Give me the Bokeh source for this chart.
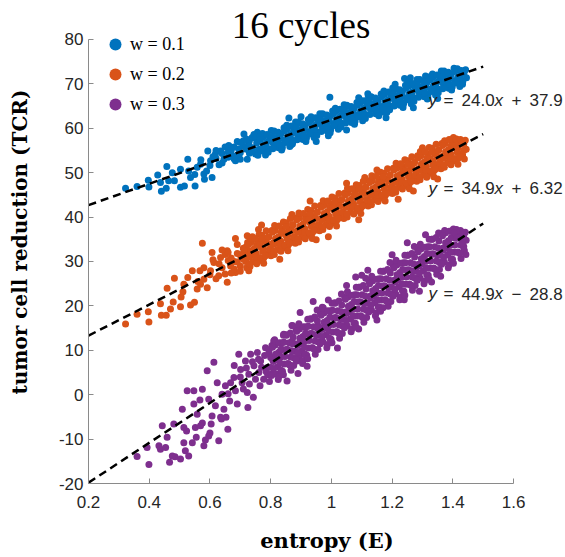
from bokeh.plotting import figure
from bokeh.models import Range1d, FixedTicker, Legend, LegendItem, Label
from bokeh.embed import file_html
from bokeh.resources import INLINE

# ---------------- data ----------------
series_labels = ["w = 0.1", "w = 0.2", "w = 0.3"]
series_colors = ["#0072BD", "#D95319", "#7E2F8E"]

fit_slope = [24.0, 34.9, 44.9]
fit_intercept = [37.9, 6.32, -28.8]
fit_x_span = [0.2, 1.5]
fit_coef_text = ["24.0", "34.9", "44.9"]
fit_sign_text = ["+", "+", "\u2212"]
fit_const_text = ["37.9", "6.32", "28.8"]

x_ticks = [0.2, 0.4, 0.6, 0.8, 1.0, 1.2, 1.4, 1.6]
x_tick_labels = ["0.2", "0.4", "0.6", "0.8", "1", "1.2", "1.4", "1.6"]
y_ticks = [-20, -10, 0, 10, 20, 30, 40, 50, 60, 70, 80]
y_tick_labels = ["-20", "-10", "0", "10", "20", "30", "40", "50", "60", "70", "80"]

blue_x = [0.322, 0.360, 0.397, 0.399, 0.428, 0.437, 0.440, 0.456, 0.458, 0.464, 0.476, 0.483, 0.503, 0.503, 0.516, 0.527, 0.530, 0.536, 0.551, 0.558,
          0.569, 0.582, 0.589, 0.593, 0.607, 0.602, 0.618, 0.635, 0.646, 0.662, 0.673, 0.684, 0.695, 0.712, 0.723, 0.728, 0.739, 0.750, 0.756,
          0.60, 0.62, 0.64, 0.66, 0.68, 0.70, 0.71, 0.72, 0.73, 0.74, 0.70, 0.65, 0.69, 0.745, 0.72,
          0.61, 0.63, 0.66, 0.67, 0.69, 0.71, 0.73, 0.75, 0.62, 0.64, 0.68, 0.70, 0.74, 0.76, 0.57, 0.55, 0.58,
          0.764, 0.754, 0.767, 0.758, 0.775, 0.786, 0.779, 0.783, 0.802, 0.797, 0.808, 0.793, 0.812, 0.821, 0.816, 0.826,
          0.844, 0.834, 0.847, 0.838, 0.855, 0.866, 0.859, 0.863, 0.882, 0.877, 0.888, 0.873, 0.892, 0.901, 0.896, 0.906,
          0.924, 0.914, 0.927, 0.918, 0.935, 0.946, 0.939, 0.943, 0.962, 0.957, 0.968, 0.953, 0.972, 0.981, 0.976, 0.986,
          1.004, 0.994, 1.007, 0.998, 1.015, 1.026, 1.019, 1.023, 1.042, 1.037, 1.048, 1.033, 1.052, 1.061, 1.056, 1.066,
          1.084, 1.074, 1.087, 1.078, 1.095, 1.106, 1.099, 1.103, 1.122, 1.117, 1.128, 1.113, 1.132, 1.141, 1.136, 1.146,
          1.164, 1.154, 1.167, 1.158, 1.175, 1.186, 1.179, 1.183, 1.202, 1.197, 1.208, 1.193, 1.212, 1.221, 1.216, 1.226,
          1.244, 1.234, 1.247, 1.238, 1.255, 1.266, 1.259, 1.263, 1.282, 1.277, 1.288, 1.273, 1.292, 1.301, 1.296, 1.306,
          1.324, 1.314, 1.327, 1.318, 1.335, 1.346, 1.339, 1.343, 1.362, 1.357, 1.368, 1.353, 1.372, 1.381, 1.376, 1.386,
          1.404, 1.394, 1.407, 1.398, 1.415, 1.426, 1.419, 1.423, 1.442, 1.437, 1.445, 1.433,
          0.995, 0.860, 0.838, 0.868, 1.241, 1.173, 0.900, 0.950, 1.050, 1.120, 1.180, 1.270, 1.310, 1.260, 1.350, 1.090, 0.990, 1.210]
blue_y = [46.5, 46.9, 48.3, 46.8, 49.5, 47.8, 45.8, 46.5, 51.4, 48.2, 50.0, 48.2, 46.7, 50.8, 47.0, 53.0, 50.4, 48.9, 47.0, 51.2,
          51.9, 48.5, 50.4, 54.9, 48.9, 52.7, 54.2, 54.9, 53.0, 56.1, 53.8, 52.7, 55.3, 58.7, 53.0, 56.4, 57.9, 54.2, 59.1,
          51.6, 53.2, 52.2, 54.6, 55.8, 54.5, 56.0, 55.3, 57.2, 55.6, 53.0, 55.8, 57.0, 58.6, 57.6,
          53.6, 51.8, 53.5, 55.0, 54.0, 57.2, 54.4, 57.8, 55.0, 54.3, 53.1, 56.8, 54.9, 55.2, 52.9, 49.6, 49.7,
          58.1, 56.7, 55.3, 53.9, 58.0, 56.7, 55.3, 54.0, 59.5, 58.1, 56.7, 55.4, 59.3, 57.9, 56.6, 55.6,
          60.1, 58.7, 57.3, 55.9, 59.9, 58.6, 57.2, 55.9, 61.4, 60.0, 58.6, 57.3, 61.2, 59.8, 58.5, 57.5,
          62.0, 60.6, 59.2, 57.8, 61.9, 60.6, 59.2, 57.9, 63.3, 61.9, 60.5, 59.2, 63.1, 61.7, 60.4, 59.4,
          63.9, 62.5, 61.1, 59.7, 63.8, 62.5, 61.1, 59.8, 65.3, 63.9, 62.5, 61.2, 65.0, 63.6, 62.3, 61.3,
          65.8, 64.4, 63.0, 61.6, 65.7, 64.4, 63.0, 61.7, 67.2, 65.8, 64.4, 63.1, 67.0, 65.6, 64.3, 63.3,
          67.7, 66.3, 64.9, 63.5, 67.6, 66.3, 64.9, 63.6, 69.1, 67.7, 66.3, 65.0, 68.9, 67.5, 66.2, 65.2,
          69.7, 68.3, 66.9, 65.5, 69.5, 68.2, 66.8, 65.5, 71.0, 69.6, 68.2, 66.9, 70.8, 69.4, 68.1, 67.1,
          71.6, 70.2, 68.8, 67.4, 71.5, 70.2, 68.8, 67.5, 72.9, 71.5, 70.1, 68.8, 72.7, 71.3, 70.0, 69.0,
          73.5, 72.1, 70.7, 69.3, 73.4, 72.1, 70.7, 69.4, 73.2, 72.5, 71.4, 70.6,
          67.0, 62.3, 55.5, 56.3, 71.2, 63.6, 62.6, 57.0, 59.6, 67.8, 62.4, 64.6, 71.8, 71.4, 66.7, 66.9, 58.3, 69.9]
blue_x2 = [0.773, 0.766, 0.776, 0.769, 0.788, 0.795, 0.784, 0.792, 0.811, 0.804, 0.814, 0.807, 0.825, 0.832, 0.829, 0.836,
           0.853, 0.846, 0.856, 0.849, 0.868, 0.875, 0.864, 0.872, 0.891, 0.884, 0.894, 0.887, 0.905, 0.912, 0.909, 0.916,
           0.933, 0.926, 0.936, 0.929, 0.948, 0.955, 0.944, 0.952, 0.971, 0.964, 0.974, 0.967, 0.985, 0.992, 0.989, 0.996,
           1.013, 1.006, 1.016, 1.009, 1.028, 1.035, 1.024, 1.032, 1.051, 1.044, 1.054, 1.047, 1.065, 1.072, 1.069, 1.076,
           1.093, 1.086, 1.096, 1.089, 1.108, 1.115, 1.104, 1.112, 1.131, 1.124, 1.134, 1.127, 1.145, 1.152, 1.149, 1.156,
           1.173, 1.166, 1.176, 1.169, 1.188, 1.195, 1.184, 1.192, 1.211, 1.204, 1.214, 1.207, 1.225, 1.232, 1.229, 1.236,
           1.253, 1.246, 1.256, 1.249, 1.268, 1.275, 1.264, 1.272, 1.291, 1.284, 1.294, 1.287, 1.305, 1.312, 1.309, 1.316,
           1.333, 1.326, 1.336, 1.329, 1.348, 1.355, 1.344, 1.352, 1.371, 1.364, 1.374, 1.367, 1.385, 1.392, 1.389, 1.396,
           1.413, 1.406, 1.416, 1.409, 1.428, 1.435, 1.424, 1.432]
blue_y2 = [58.8, 57.5, 56.2, 54.9, 58.6, 57.3, 55.9, 54.6, 59.4, 58.1, 56.8, 55.4, 59.1, 57.7, 56.4, 55.1,
           60.7, 59.4, 58.1, 56.8, 60.5, 59.2, 57.8, 56.5, 61.4, 60.1, 58.8, 57.4, 61.0, 59.6, 58.3, 57.0,
           62.6, 61.3, 60.0, 58.7, 62.4, 61.1, 59.7, 58.4, 63.3, 62.0, 60.7, 59.3, 63.0, 61.6, 60.3, 59.0,
           64.5, 63.2, 61.9, 60.6, 64.3, 63.0, 61.6, 60.3, 65.2, 63.9, 62.6, 61.2, 64.9, 63.5, 62.2, 60.9,
           66.5, 65.2, 63.9, 62.6, 66.2, 64.9, 63.5, 62.2, 67.1, 65.8, 64.5, 63.1, 66.8, 65.4, 64.1, 62.8,
           68.4, 67.1, 65.8, 64.5, 68.2, 66.9, 65.5, 64.2, 69.0, 67.7, 66.4, 65.0, 68.7, 67.3, 66.0, 64.7,
           70.3, 69.0, 67.7, 66.4, 70.1, 68.8, 67.4, 66.1, 71.0, 69.7, 68.4, 67.0, 70.6, 69.2, 67.9, 66.6,
           72.2, 70.9, 69.6, 68.3, 72.0, 70.7, 69.3, 68.0, 72.9, 71.6, 70.3, 68.9, 72.6, 71.2, 69.9, 68.6,
           73.2, 72.8, 71.5, 70.2, 73.0, 72.6, 71.2, 69.9]

orange_x = [0.322, 0.360, 0.399, 0.397, 0.437, 0.440, 0.456, 0.470, 0.459, 0.483, 0.479, 0.503, 0.505, 0.511, 0.514, 0.527, 0.536, 0.549, 0.558,
            0.542, 0.567, 0.575, 0.569, 0.580, 0.591, 0.602, 0.607, 0.613, 0.629, 0.635, 0.657, 0.657, 0.668, 0.684, 0.684, 0.701, 0.723, 0.728,
            0.64, 0.66, 0.67, 0.69, 0.70, 0.71, 0.65, 0.68, 0.72, 0.74, 0.75, 0.73, 0.69, 0.71, 0.76,
            0.60, 0.62, 0.63, 0.65, 0.66, 0.67, 0.68, 0.70, 0.71, 0.61, 0.64, 0.69, 0.72, 0.58, 0.56,
            0.724, 0.714, 0.727, 0.718, 0.721, 0.735, 0.746, 0.739, 0.743, 0.732, 0.762, 0.757, 0.768, 0.753, 0.765,
            0.772, 0.781, 0.776, 0.786, 0.777, 0.804, 0.794, 0.807, 0.798, 0.801, 0.815, 0.826, 0.819, 0.823, 0.812,
            0.842, 0.837, 0.848, 0.833, 0.845, 0.852, 0.861, 0.856, 0.866, 0.857, 0.884, 0.874, 0.887, 0.878, 0.881,
            0.895, 0.906, 0.899, 0.903, 0.892, 0.922, 0.917, 0.928, 0.913, 0.925, 0.932, 0.941, 0.936, 0.946, 0.937,
            0.964, 0.954, 0.967, 0.958, 0.961, 0.975, 0.986, 0.979, 0.983, 0.972, 1.002, 0.997, 1.008, 0.993, 1.005,
            1.012, 1.021, 1.016, 1.026, 1.017, 1.044, 1.034, 1.047, 1.038, 1.041, 1.055, 1.066, 1.059, 1.063, 1.052,
            1.082, 1.077, 1.088, 1.073, 1.085, 1.092, 1.101, 1.096, 1.106, 1.097, 1.124, 1.114, 1.127, 1.118, 1.121,
            1.135, 1.146, 1.139, 1.143, 1.132, 1.162, 1.157, 1.168, 1.153, 1.165, 1.172, 1.181, 1.176, 1.186, 1.177,
            1.204, 1.194, 1.207, 1.198, 1.201, 1.215, 1.226, 1.219, 1.223, 1.212, 1.242, 1.237, 1.248, 1.233, 1.245,
            1.252, 1.261, 1.256, 1.266, 1.257, 1.284, 1.274, 1.287, 1.278, 1.281, 1.295, 1.306, 1.299, 1.303, 1.292,
            1.322, 1.317, 1.328, 1.313, 1.325, 1.332, 1.341, 1.336, 1.346, 1.337, 1.364, 1.354, 1.367, 1.358, 1.361,
            1.375, 1.386, 1.379, 1.383, 1.372, 1.402, 1.397, 1.408, 1.393, 1.405, 1.412, 1.421, 1.416, 1.426, 1.417,
            1.441, 1.436, 1.444, 1.432, 1.438,
            0.77, 0.83, 0.93, 0.99, 1.05, 1.09, 1.15, 1.22, 1.30, 1.35, 1.27, 1.11, 0.87, 0.95]
orange_y = [15.9, 18.1, 16.4, 18.7, 20.5, 17.9, 17.9, 19.3, 24.0, 26.2, 20.9, 19.8, 22.0, 23.2, 24.9, 26.4, 20.2, 20.8, 23.8,
            27.9, 27.9, 34.1, 24.9, 26.0, 24.1, 27.9, 32.0, 29.8, 26.8, 30.9, 25.3, 32.4, 29.0, 35.2, 27.5, 31.3, 35.8, 27.9,
            28.6, 30.2, 27.4, 31.8, 29.0, 33.0, 31.6, 28.3, 33.4, 35.6, 30.0, 29.4, 33.8, 30.5, 37.2,
            27.0, 26.1, 29.5, 27.2, 32.0, 30.8, 30.0, 27.8, 31.9, 30.4, 32.6, 29.9, 32.5, 28.6, 25.5,
            34.3, 32.8, 31.4, 30.0, 28.6, 34.3, 32.9, 31.4, 30.0, 28.9, 36.1, 34.6, 33.2, 31.8, 30.3,
            35.9, 34.5, 33.0, 31.7, 30.8, 37.0, 35.5, 34.1, 32.7, 31.3, 37.0, 35.6, 34.1, 32.7, 31.6,
            38.9, 37.4, 36.0, 34.6, 33.1, 38.7, 37.3, 35.8, 34.5, 33.6, 39.8, 38.3, 36.9, 35.5, 34.1,
            39.8, 38.4, 36.9, 35.5, 34.4, 41.7, 40.2, 38.8, 37.4, 35.9, 41.5, 40.1, 38.6, 37.3, 36.4,
            42.6, 41.1, 39.7, 38.3, 36.9, 42.6, 41.2, 39.7, 38.3, 37.2, 44.5, 43.0, 41.6, 40.2, 38.7,
            44.3, 42.9, 41.4, 40.1, 39.2, 45.4, 43.9, 42.5, 41.1, 39.7, 45.4, 44.0, 42.5, 41.1, 40.0,
            47.3, 45.8, 44.4, 43.0, 41.5, 47.1, 45.7, 44.2, 42.9, 42.0, 48.2, 46.7, 45.3, 43.9, 42.5,
            48.2, 46.8, 45.3, 43.9, 42.8, 50.1, 48.6, 47.2, 45.8, 44.3, 49.9, 48.5, 47.0, 45.7, 44.8,
            51.0, 49.5, 48.1, 46.7, 45.3, 51.0, 49.6, 48.1, 46.7, 45.6, 52.9, 51.4, 50.0, 48.6, 47.1,
            52.7, 51.3, 49.8, 48.5, 47.6, 53.8, 52.3, 50.9, 49.5, 48.1, 53.8, 52.4, 50.9, 49.5, 48.4,
            55.7, 54.2, 52.8, 51.4, 49.9, 55.5, 54.1, 52.6, 51.3, 50.4, 56.6, 55.1, 53.7, 52.3, 50.9,
            56.6, 55.2, 53.7, 52.3, 51.2, 57.9, 57.0, 55.6, 54.2, 52.7, 57.6, 56.9, 55.4, 54.1, 53.2,
            57.3, 56.4, 55.3, 54.0, 53.1,
            38.2, 30.5, 43.6, 35.6, 47.6, 39.4, 50.6, 44.0, 55.6, 48.6, 45.9, 48.9, 40.6, 34.9]
orange_x2 = [0.733, 0.726, 0.736, 0.729, 0.730, 0.748, 0.755, 0.744, 0.752, 0.754, 0.771, 0.764, 0.774, 0.767, 0.777,
             0.785, 0.792, 0.789, 0.796, 0.783, 0.813, 0.806, 0.816, 0.809, 0.810, 0.828, 0.835, 0.824, 0.832, 0.834,
             0.851, 0.844, 0.854, 0.847, 0.857, 0.865, 0.872, 0.869, 0.876, 0.863, 0.893, 0.886, 0.896, 0.889, 0.890,
             0.908, 0.915, 0.904, 0.912, 0.914, 0.931, 0.924, 0.934, 0.927, 0.937, 0.945, 0.952, 0.949, 0.956, 0.943,
             0.973, 0.966, 0.976, 0.969, 0.970, 0.988, 0.995, 0.984, 0.992, 0.994, 1.011, 1.004, 1.014, 1.007, 1.017,
             1.025, 1.032, 1.029, 1.036, 1.023, 1.053, 1.046, 1.056, 1.049, 1.050, 1.068, 1.075, 1.064, 1.072, 1.074,
             1.091, 1.084, 1.094, 1.087, 1.097, 1.105, 1.112, 1.109, 1.116, 1.103, 1.133, 1.126, 1.136, 1.129, 1.130,
             1.148, 1.155, 1.144, 1.152, 1.154, 1.171, 1.164, 1.174, 1.167, 1.177, 1.185, 1.192, 1.189, 1.196, 1.183,
             1.213, 1.206, 1.216, 1.209, 1.210, 1.228, 1.235, 1.224, 1.232, 1.234, 1.251, 1.244, 1.254, 1.247, 1.257,
             1.265, 1.272, 1.269, 1.276, 1.263, 1.293, 1.286, 1.296, 1.289, 1.290, 1.308, 1.315, 1.304, 1.312, 1.314,
             1.331, 1.324, 1.334, 1.327, 1.337, 1.345, 1.352, 1.349, 1.356, 1.343, 1.373, 1.366, 1.376, 1.369, 1.370,
             1.388, 1.395, 1.384, 1.392, 1.394, 1.411, 1.404, 1.414, 1.407, 1.417, 1.425, 1.432, 1.429, 1.436, 1.423]
orange_y2 = [35.3, 33.8, 32.4, 31.0, 29.5, 35.2, 33.8, 32.4, 31.0, 29.5, 35.1, 33.7, 32.3, 30.9, 29.6,
             36.9, 35.5, 34.1, 32.7, 31.3, 38.1, 36.6, 35.2, 33.8, 32.3, 38.0, 36.6, 35.2, 33.8, 32.3,
             37.9, 36.5, 35.1, 33.7, 32.4, 39.7, 38.3, 36.9, 35.5, 34.1, 40.9, 39.4, 38.0, 36.6, 35.1,
             40.8, 39.4, 38.0, 36.6, 35.1, 40.7, 39.3, 37.9, 36.5, 35.2, 42.5, 41.1, 39.7, 38.3, 36.9,
             43.7, 42.2, 40.8, 39.4, 37.9, 43.6, 42.2, 40.8, 39.4, 37.9, 43.5, 42.1, 40.7, 39.3, 38.0,
             45.3, 43.9, 42.5, 41.1, 39.7, 46.5, 45.0, 43.6, 42.2, 40.7, 46.4, 45.0, 43.6, 42.2, 40.7,
             46.3, 44.9, 43.5, 42.1, 40.8, 48.1, 46.7, 45.3, 43.9, 42.5, 49.3, 47.8, 46.4, 45.0, 43.5,
             49.2, 47.8, 46.4, 45.0, 43.5, 49.1, 47.7, 46.3, 44.9, 43.6, 50.9, 49.5, 48.1, 46.7, 45.3,
             52.1, 50.6, 49.2, 47.8, 46.3, 52.0, 50.6, 49.2, 47.8, 46.3, 51.9, 50.5, 49.1, 47.7, 46.4,
             53.6, 52.2, 50.8, 49.4, 48.0, 54.8, 53.3, 51.9, 50.5, 49.0, 54.7, 53.3, 51.9, 50.5, 49.0,
             54.6, 53.2, 51.8, 50.4, 49.1, 56.4, 55.0, 53.6, 52.2, 50.8, 57.2, 56.1, 54.7, 53.3, 51.8,
             57.5, 56.1, 54.7, 53.3, 51.8, 57.4, 56.0, 54.6, 53.2, 51.9, 57.5, 57.0, 56.4, 55.0, 53.6]

purple_x = [0.360, 0.437, 0.467, 0.485, 0.555, 0.585, 0.600, 0.638, 0.653, 0.523, 0.575,
            0.399, 0.393, 0.432, 0.443, 0.459, 0.454, 0.476, 0.481, 0.503, 0.509, 0.514, 0.514, 0.519, 0.530, 0.525, 0.542,
            0.547, 0.552, 0.547, 0.558, 0.569, 0.575, 0.567, 0.580, 0.591, 0.596, 0.604, 0.596, 0.613, 0.607, 0.618, 0.624,
            0.629, 0.635, 0.640, 0.646, 0.651, 0.659, 0.665, 0.668, 0.679, 0.684, 0.690, 0.695, 0.701, 0.706, 0.717, 0.723,
            0.728, 0.725, 0.734, 0.743, 0.745, 0.756, 0.761, 0.767, 0.777, 0.783, 0.789, 0.800, 0.810, 0.822, 0.832, 0.854,
            0.843, 0.871, 0.887, 0.909, 0.920, 0.897, 0.956,
            0.70, 0.72, 0.73, 0.75, 0.76, 0.77, 0.78, 0.79, 0.74, 0.71, 0.765, 0.785, 0.795, 0.68, 0.66,
            0.804, 0.794, 0.807, 0.798, 0.801, 0.796, 0.815, 0.826, 0.819, 0.823, 0.812, 0.825,
            0.842, 0.837, 0.848, 0.833, 0.845, 0.839, 0.852, 0.861, 0.856, 0.866, 0.857, 0.867,
            0.884, 0.874, 0.887, 0.878, 0.881, 0.876, 0.895, 0.906, 0.899, 0.903, 0.892, 0.905,
            0.922, 0.917, 0.928, 0.913, 0.925, 0.919, 0.932, 0.941, 0.936, 0.946, 0.937, 0.947,
            0.964, 0.954, 0.967, 0.958, 0.961, 0.956, 0.975, 0.986, 0.979, 0.983, 0.972, 0.985,
            1.002, 0.997, 1.008, 0.993, 1.005, 0.999, 1.012, 1.021, 1.016, 1.026, 1.017, 1.027,
            1.044, 1.034, 1.047, 1.038, 1.041, 1.036, 1.055, 1.066, 1.059, 1.063, 1.052, 1.065,
            1.082, 1.077, 1.088, 1.073, 1.085, 1.079, 1.092, 1.101, 1.096, 1.106, 1.097, 1.107,
            1.124, 1.114, 1.127, 1.118, 1.121, 1.116, 1.135, 1.146, 1.139, 1.143, 1.132, 1.145,
            1.162, 1.157, 1.168, 1.153, 1.165, 1.159, 1.172, 1.181, 1.176, 1.186, 1.177, 1.187,
            1.204, 1.194, 1.207, 1.198, 1.201, 1.196, 1.215, 1.226, 1.219, 1.223, 1.212, 1.225,
            1.242, 1.237, 1.248, 1.233, 1.245, 1.239, 1.252, 1.261, 1.256, 1.266, 1.257, 1.267,
            1.284, 1.274, 1.287, 1.278, 1.281, 1.276, 1.295, 1.306, 1.299, 1.303, 1.292, 1.305,
            1.322, 1.317, 1.328, 1.313, 1.325, 1.319, 1.332, 1.341, 1.336, 1.346, 1.337, 1.347,
            1.364, 1.354, 1.367, 1.358, 1.361, 1.356, 1.375, 1.386, 1.379, 1.383, 1.372, 1.385,
            1.402, 1.397, 1.408, 1.393, 1.405, 1.399, 1.412, 1.421, 1.416, 1.426, 1.417, 1.427,
            1.441, 1.436, 1.444, 1.432, 1.438, 1.443,
            0.94, 1.09, 1.17, 1.08, 1.10, 1.05, 0.99, 1.20, 1.25, 1.31, 1.15, 1.24, 1.33, 1.02, 0.92, 0.87, 1.12, 1.29, 1.36, 0.97, 0.89]
purple_y = [-13.9, -12.3, -15.2, -14.0, -9.6, -10.2, -8.6, -5.5, -5.1, -8.2, -6.4,
            -15.7, -11.9, -11.5, -7.0, -9.6, -11.9, -13.8, -6.6, -14.5, -3.3, -7.4, -10.8, -12.6, -13.8, 0.9, -10.8,
            0.9, -7.4, -2.1, -4.4, -7.0, 1.2, -1.2, -11.5, 5.4, -9.3, -6.6, -1.0, 7.3, -4.8, -2.5, 2.7,
            -10.4, -5.1, 0.1, -3.3, 2.0, -7.8, -1.4, 2.7, 3.9, 0.9, -2.1, 9.1, 5.7, 2.7, 7.6, 0.5,
            4.6, -2.9, 9.1, -0.6, 6.5, 9.5, 5.0, 7.6, 3.5, 10.6, 6.1, 8.4, 12.1, 4.6, 9.9, 3.1,
            13.6, 12.1, 7.6, 9.1, 13.6, 18.5, 15.5,
            4.0, 6.0, 2.4, 3.5, 8.0, 6.2, 8.8, 4.5, 7.4, 1.3, 2.0, 5.2, 10.1, 6.6, 0.2,
            11.1, 9.4, 7.8, 6.2, 4.6, 3.0, 11.2, 9.5, 7.9, 6.3, 4.7, 3.4,
            13.4, 11.7, 10.1, 8.5, 6.9, 5.3, 13.4, 11.7, 10.1, 8.5, 6.9, 5.5,
            14.7, 13.0, 11.4, 9.8, 8.2, 6.6, 14.8, 13.1, 11.5, 9.9, 8.3, 7.0,
            17.0, 15.3, 13.7, 12.1, 10.5, 8.9, 17.0, 15.3, 13.7, 12.1, 10.5, 9.1,
            18.3, 16.6, 15.0, 13.4, 11.8, 10.2, 18.4, 16.7, 15.1, 13.5, 11.9, 10.6,
            20.6, 18.9, 17.3, 15.7, 14.1, 12.5, 20.6, 18.9, 17.3, 15.7, 14.1, 12.7,
            21.9, 20.2, 18.6, 17.0, 15.4, 13.8, 22.0, 20.3, 18.7, 17.1, 15.5, 14.2,
            24.2, 22.5, 20.9, 19.3, 17.7, 16.1, 24.2, 22.5, 20.9, 19.3, 17.7, 16.3,
            25.5, 23.8, 22.2, 20.6, 19.0, 17.4, 25.6, 23.9, 22.3, 20.7, 19.1, 17.8,
            27.8, 26.1, 24.5, 22.9, 21.3, 19.7, 27.8, 26.1, 24.5, 22.9, 21.3, 19.9,
            29.1, 27.4, 25.8, 24.2, 22.6, 21.0, 29.2, 27.5, 25.9, 24.3, 22.7, 21.4,
            31.4, 29.7, 28.1, 26.5, 24.9, 23.3, 31.4, 29.7, 28.1, 26.5, 24.9, 23.5,
            32.7, 31.0, 29.4, 27.8, 26.2, 24.6, 32.8, 31.1, 29.5, 27.9, 26.3, 25.0,
            35.0, 33.3, 31.7, 30.1, 28.5, 26.9, 35.0, 33.3, 31.7, 30.1, 28.5, 27.1,
            36.3, 34.6, 33.0, 31.4, 29.8, 28.2, 36.4, 34.7, 33.1, 31.5, 29.9, 28.6,
            37.3, 36.9, 35.3, 33.7, 32.1, 30.5, 37.2, 36.4, 35.3, 33.7, 32.1, 30.7,
            36.6, 35.9, 34.8, 33.6, 32.5, 31.6,
            21.0, 14.8, 19.6, 26.5, 26.9, 24.6, 21.3, 31.5, 34.2, 36.0, 16.8, 21.4, 25.4, 10.5, 6.4, 15.6, 28.0, 23.3, 26.7, 19.7, 4.8]
purple_x2 = [0.813, 0.806, 0.816, 0.809, 0.810, 0.803, 0.828, 0.835, 0.824, 0.832, 0.834, 0.827,
             0.851, 0.844, 0.854, 0.847, 0.857, 0.842, 0.865, 0.872, 0.869, 0.876, 0.863, 0.873,
             0.893, 0.886, 0.896, 0.889, 0.890, 0.883, 0.908, 0.915, 0.904, 0.912, 0.914, 0.907,
             0.931, 0.924, 0.934, 0.927, 0.937, 0.922, 0.945, 0.952, 0.949, 0.956, 0.943, 0.953,
             0.973, 0.966, 0.976, 0.969, 0.970, 0.963, 0.988, 0.995, 0.984, 0.992, 0.994, 0.987,
             1.011, 1.004, 1.014, 1.007, 1.017, 1.002, 1.025, 1.032, 1.029, 1.036, 1.023, 1.033,
             1.053, 1.046, 1.056, 1.049, 1.050, 1.043, 1.068, 1.075, 1.064, 1.072, 1.074, 1.067,
             1.091, 1.084, 1.094, 1.087, 1.097, 1.082, 1.105, 1.112, 1.109, 1.116, 1.103, 1.113,
             1.133, 1.126, 1.136, 1.129, 1.130, 1.123, 1.148, 1.155, 1.144, 1.152, 1.154, 1.147,
             1.171, 1.164, 1.174, 1.167, 1.177, 1.162, 1.185, 1.192, 1.189, 1.196, 1.183, 1.193,
             1.213, 1.206, 1.216, 1.209, 1.210, 1.203, 1.228, 1.235, 1.224, 1.232, 1.234, 1.227,
             1.251, 1.244, 1.254, 1.247, 1.257, 1.242, 1.265, 1.272, 1.269, 1.276, 1.263, 1.273,
             1.293, 1.286, 1.296, 1.289, 1.290, 1.283, 1.308, 1.315, 1.304, 1.312, 1.314, 1.307,
             1.331, 1.324, 1.334, 1.327, 1.337, 1.322, 1.345, 1.352, 1.349, 1.356, 1.343, 1.353,
             1.373, 1.366, 1.376, 1.369, 1.370, 1.363, 1.388, 1.395, 1.384, 1.392, 1.394, 1.387,
             1.411, 1.404, 1.414, 1.407, 1.417, 1.402, 1.425, 1.432, 1.429, 1.436, 1.423, 1.433]
purple_y2 = [12.4, 10.7, 9.1, 7.5, 5.9, 4.3, 11.7, 10.3, 8.7, 7.1, 5.5, 4.1,
             13.5, 11.8, 10.2, 8.6, 7.0, 4.5, 13.9, 11.5, 9.9, 8.3, 6.7, 15.5,
             16.0, 14.3, 12.7, 11.1, 9.5, 7.9, 15.3, 13.9, 12.3, 10.7, 9.1, 7.7,
             17.1, 15.4, 13.8, 12.2, 10.6, 8.1, 17.5, 15.1, 13.5, 11.9, 10.3, 19.1,
             19.6, 17.9, 16.3, 14.7, 13.1, 11.5, 18.9, 17.5, 15.9, 14.3, 12.7, 11.3,
             20.7, 19.0, 17.4, 15.8, 14.2, 11.7, 21.1, 18.7, 17.1, 15.5, 13.9, 22.7,
             23.2, 21.5, 19.9, 18.3, 16.7, 15.1, 22.4, 21.0, 19.4, 17.8, 16.2, 14.8,
             24.2, 22.5, 20.9, 19.3, 17.7, 15.2, 24.6, 22.2, 20.6, 19.0, 17.4, 26.2,
             26.7, 25.0, 23.4, 21.8, 20.2, 18.6, 26.0, 24.6, 23.0, 21.4, 19.8, 18.4,
             27.8, 26.1, 24.5, 22.9, 21.3, 18.8, 28.2, 25.8, 24.2, 22.6, 21.0, 29.8,
             30.3, 28.6, 27.0, 25.4, 23.8, 22.2, 29.6, 28.2, 26.6, 25.0, 23.4, 22.0,
             31.4, 29.7, 28.1, 26.5, 24.9, 22.4, 31.8, 29.4, 27.8, 26.2, 24.6, 33.4,
             33.9, 32.2, 30.6, 29.0, 27.4, 25.8, 33.2, 31.8, 30.2, 28.6, 27.0, 25.6,
             35.0, 33.3, 31.7, 30.1, 28.5, 26.0, 35.4, 33.0, 31.4, 29.8, 28.2, 36.4,
             37.0, 35.8, 34.2, 32.6, 31.0, 29.4, 36.8, 35.4, 33.8, 32.2, 30.6, 29.2,
             37.0, 36.5, 35.3, 33.7, 32.1, 29.6, 37.0, 36.6, 35.0, 33.4, 31.8, 34.2]

series_x = [blue_x + blue_x2, orange_x + orange_x2, purple_x + purple_x2]
series_y = [blue_y + blue_y2, orange_y + orange_y2, purple_y + purple_y2]

# annotation anchor positions (data units)
fit_text_x = 1.32
fit_text_y = [66.35, 46.5, 22.7]

# ---------------- figure ----------------
p = figure(width=565, height=557, output_backend="svg", toolbar_location=None,
           x_range=Range1d(0.2, 1.7711), y_range=Range1d(-20, 88.78), title=None,
           min_border_left=88, min_border_right=0, min_border_top=0, min_border_bottom=74)
p.outline_line_color = None
p.grid.visible = False
p.background_fill_color = "white"
p.border_fill_color = "white"

axis_gray = "#8a8a8a"
for ax in (p.xaxis[0], p.yaxis[0]):
    ax.axis_line_color = axis_gray
    ax.axis_line_width = 1
    ax.major_tick_line_color = axis_gray
    ax.major_tick_in = 5
    ax.major_tick_out = 0
    ax.minor_tick_line_color = None
    ax.major_label_text_font = "Liberation Sans"
    ax.major_label_text_font_size = "17px"
    ax.major_label_text_color = "#262626"
    ax.axis_label_text_font = "DejaVu Serif"
    ax.axis_label_text_font_style = "bold"
    ax.axis_label_text_color = "black"

p.xaxis.axis_label_text_font_size = "21px"
p.yaxis.axis_label_text_font_size = "20px"
p.xaxis.bounds = (0.2, 1.6)
p.yaxis.bounds = (-20, 80)
p.xaxis.ticker = FixedTicker(ticks=x_ticks)
p.xaxis.major_label_overrides = dict(zip(x_ticks, x_tick_labels))
p.yaxis.ticker = FixedTicker(ticks=y_ticks)
p.yaxis.major_label_overrides = dict(zip(y_ticks, y_tick_labels))
p.xaxis.axis_label = "entropy (E)"
p.yaxis.axis_label = "tumor cell reduction (TCR)"
p.xaxis.major_label_standoff = 12
p.xaxis.axis_label_standoff = 17
p.yaxis.major_label_standoff = 5
p.yaxis.axis_label_standoff = 24

renderers = []
for xs, ys, c in zip(series_x, series_y, series_colors):
    r = p.scatter(xs, ys, marker="circle", size=7, fill_color=c, line_color=None)
    renderers.append(r)

for m, b in zip(fit_slope, fit_intercept):
    p.line(fit_x_span, [m * fit_x_span[0] + b, m * fit_x_span[1] + b],
           line_color="black", line_width=2.5, line_dash="8 5")

# legend: location is the bottom-left corner, in px from the frame's bottom-left
legend = Legend(items=[LegendItem(label=lab, renderers=[r]) for lab, r in zip(series_labels, renderers)],
                location=(12, 364), glyph_width=30, glyph_height=30, spacing=-4,
                padding=0, margin=0, label_standoff=0,
                border_line_color=None, background_fill_alpha=0,
                label_text_font="Liberation Serif", label_text_font_size="18px",
                label_text_color="black", label_height=20)
p.add_layout(legend)

# fit annotations, assembled from pieces (italic y and x)
piece_offsets = [0, 15, 33, 66, 83, 101]
for k in range(3):
    pieces = ["y", "=", fit_coef_text[k], "x", fit_sign_text[k], fit_const_text[k]]
    styles = ["italic", "normal", "normal", "italic", "normal", "normal"]
    for txt, st, off in zip(pieces, styles, piece_offsets):
        p.add_layout(Label(x=fit_text_x, y=fit_text_y[k], x_offset=off, text=txt,
                           text_font="Liberation Sans", text_font_size="17px",
                           text_font_style=st, text_color="#262626",
                           text_baseline="middle", text_align="left"))

p.add_layout(Label(x=0.9, y=83.2, text="16 cycles", text_font="Liberation Serif",
                   text_font_size="37px", text_color="black",
                   text_align="center", text_baseline="middle"))

open("out.html", "w").write(file_html(p, INLINE))
